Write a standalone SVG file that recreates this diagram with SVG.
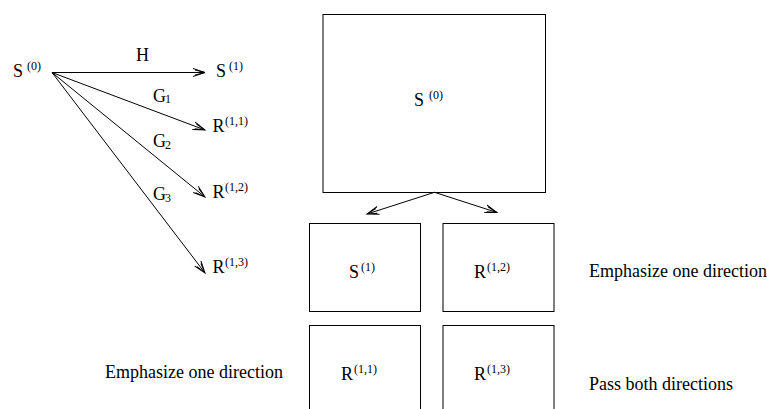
<svg xmlns="http://www.w3.org/2000/svg" width="767" height="409" viewBox="0 0 767 409">
<style>
text{font-family:"Liberation Serif","Times New Roman",serif;font-size:18px;fill:#000}
.sup{font-size:12px}
.sub{font-size:12px}
.box{fill:none;stroke:#000;stroke-width:1}
.edge{fill:none;stroke:#000;stroke-width:1;marker-end:url(#arr)}
</style>
<defs>
<marker id="arr" markerUnits="userSpaceOnUse" markerWidth="14" markerHeight="10" refX="12" refY="4" orient="auto" viewBox="0 0 14 8">
<path d="M0,0 L12,4 L0,8 M2,1.5 L12,4 L2,6.5" fill="none" stroke="#000" stroke-width="1"/>
</marker>
</defs>
<rect width="767" height="409" fill="#fff"/>
<g id="connectors">
<line class="edge" x1="52" y1="72.5" x2="205" y2="72.5"/>
<line class="edge" x1="52" y1="72.5" x2="205" y2="130"/>
<line class="edge" x1="52" y1="72.5" x2="205" y2="197"/>
<line class="edge" x1="52" y1="72.5" x2="205" y2="273"/>
<line class="edge" x1="434.5" y1="192.3" x2="367" y2="214"/>
<line class="edge" x1="434.5" y1="192.3" x2="497" y2="212.5"/>
<text x="136" y="61">H</text>
<text x="153" y="102">G<tspan class="sub" x="165" y="103">1</tspan></text>
<text x="153" y="147">G<tspan class="sub" x="165" y="149">2</tspan></text>
<text x="153" y="200">G<tspan class="sub" x="165" y="202">3</tspan></text>
</g>
<g id="left-S0"><text x="13" y="77">S<tspan class="sup" x="27" y="70">(0)</tspan></text></g>
<g id="left-S1"><text x="216" y="77">S<tspan class="sup" x="229" y="70">(1)</tspan></text></g>
<g id="left-R11"><text x="212.5" y="132">R<tspan class="sup" x="225" y="125">(1,1)</tspan></text></g>
<g id="left-R12"><text x="212.5" y="198">R<tspan class="sup" x="225" y="191">(1,2)</tspan></text></g>
<g id="left-R13"><text x="212.5" y="273">R<tspan class="sup" x="225" y="266">(1,3)</tspan></text></g>
<g id="box-S0">
<rect class="box" x="323" y="14.5" width="222.5" height="178"/>
<text x="414" y="106">S<tspan class="sup" x="429" y="99">(0)</tspan></text>
</g>
<g id="box-S1">
<rect class="box" x="309.5" y="223.5" width="111" height="88"/>
<text x="349" y="278">S<tspan class="sup" x="361" y="271">(1)</tspan></text>
</g>
<g id="box-R12">
<rect class="box" x="443" y="223.5" width="111" height="88"/>
<text x="474" y="278">R<tspan class="sup" x="487" y="271">(1,2)</tspan></text>
</g>
<g id="box-R11">
<rect class="box" x="309.5" y="325.5" width="111" height="100"/>
<text x="341" y="380">R<tspan class="sup" x="354" y="373">(1,1)</tspan></text>
</g>
<g id="box-R13">
<rect class="box" x="443" y="325.5" width="111" height="100"/>
<text x="474" y="380">R<tspan class="sup" x="487" y="373">(1,3)</tspan></text>
</g>
<g id="labels">
<text x="589" y="277">Emphasize one direction</text>
<text x="105" y="378">Emphasize one direction</text>
<text x="589" y="390">Pass both directions</text>
</g>
</svg>
